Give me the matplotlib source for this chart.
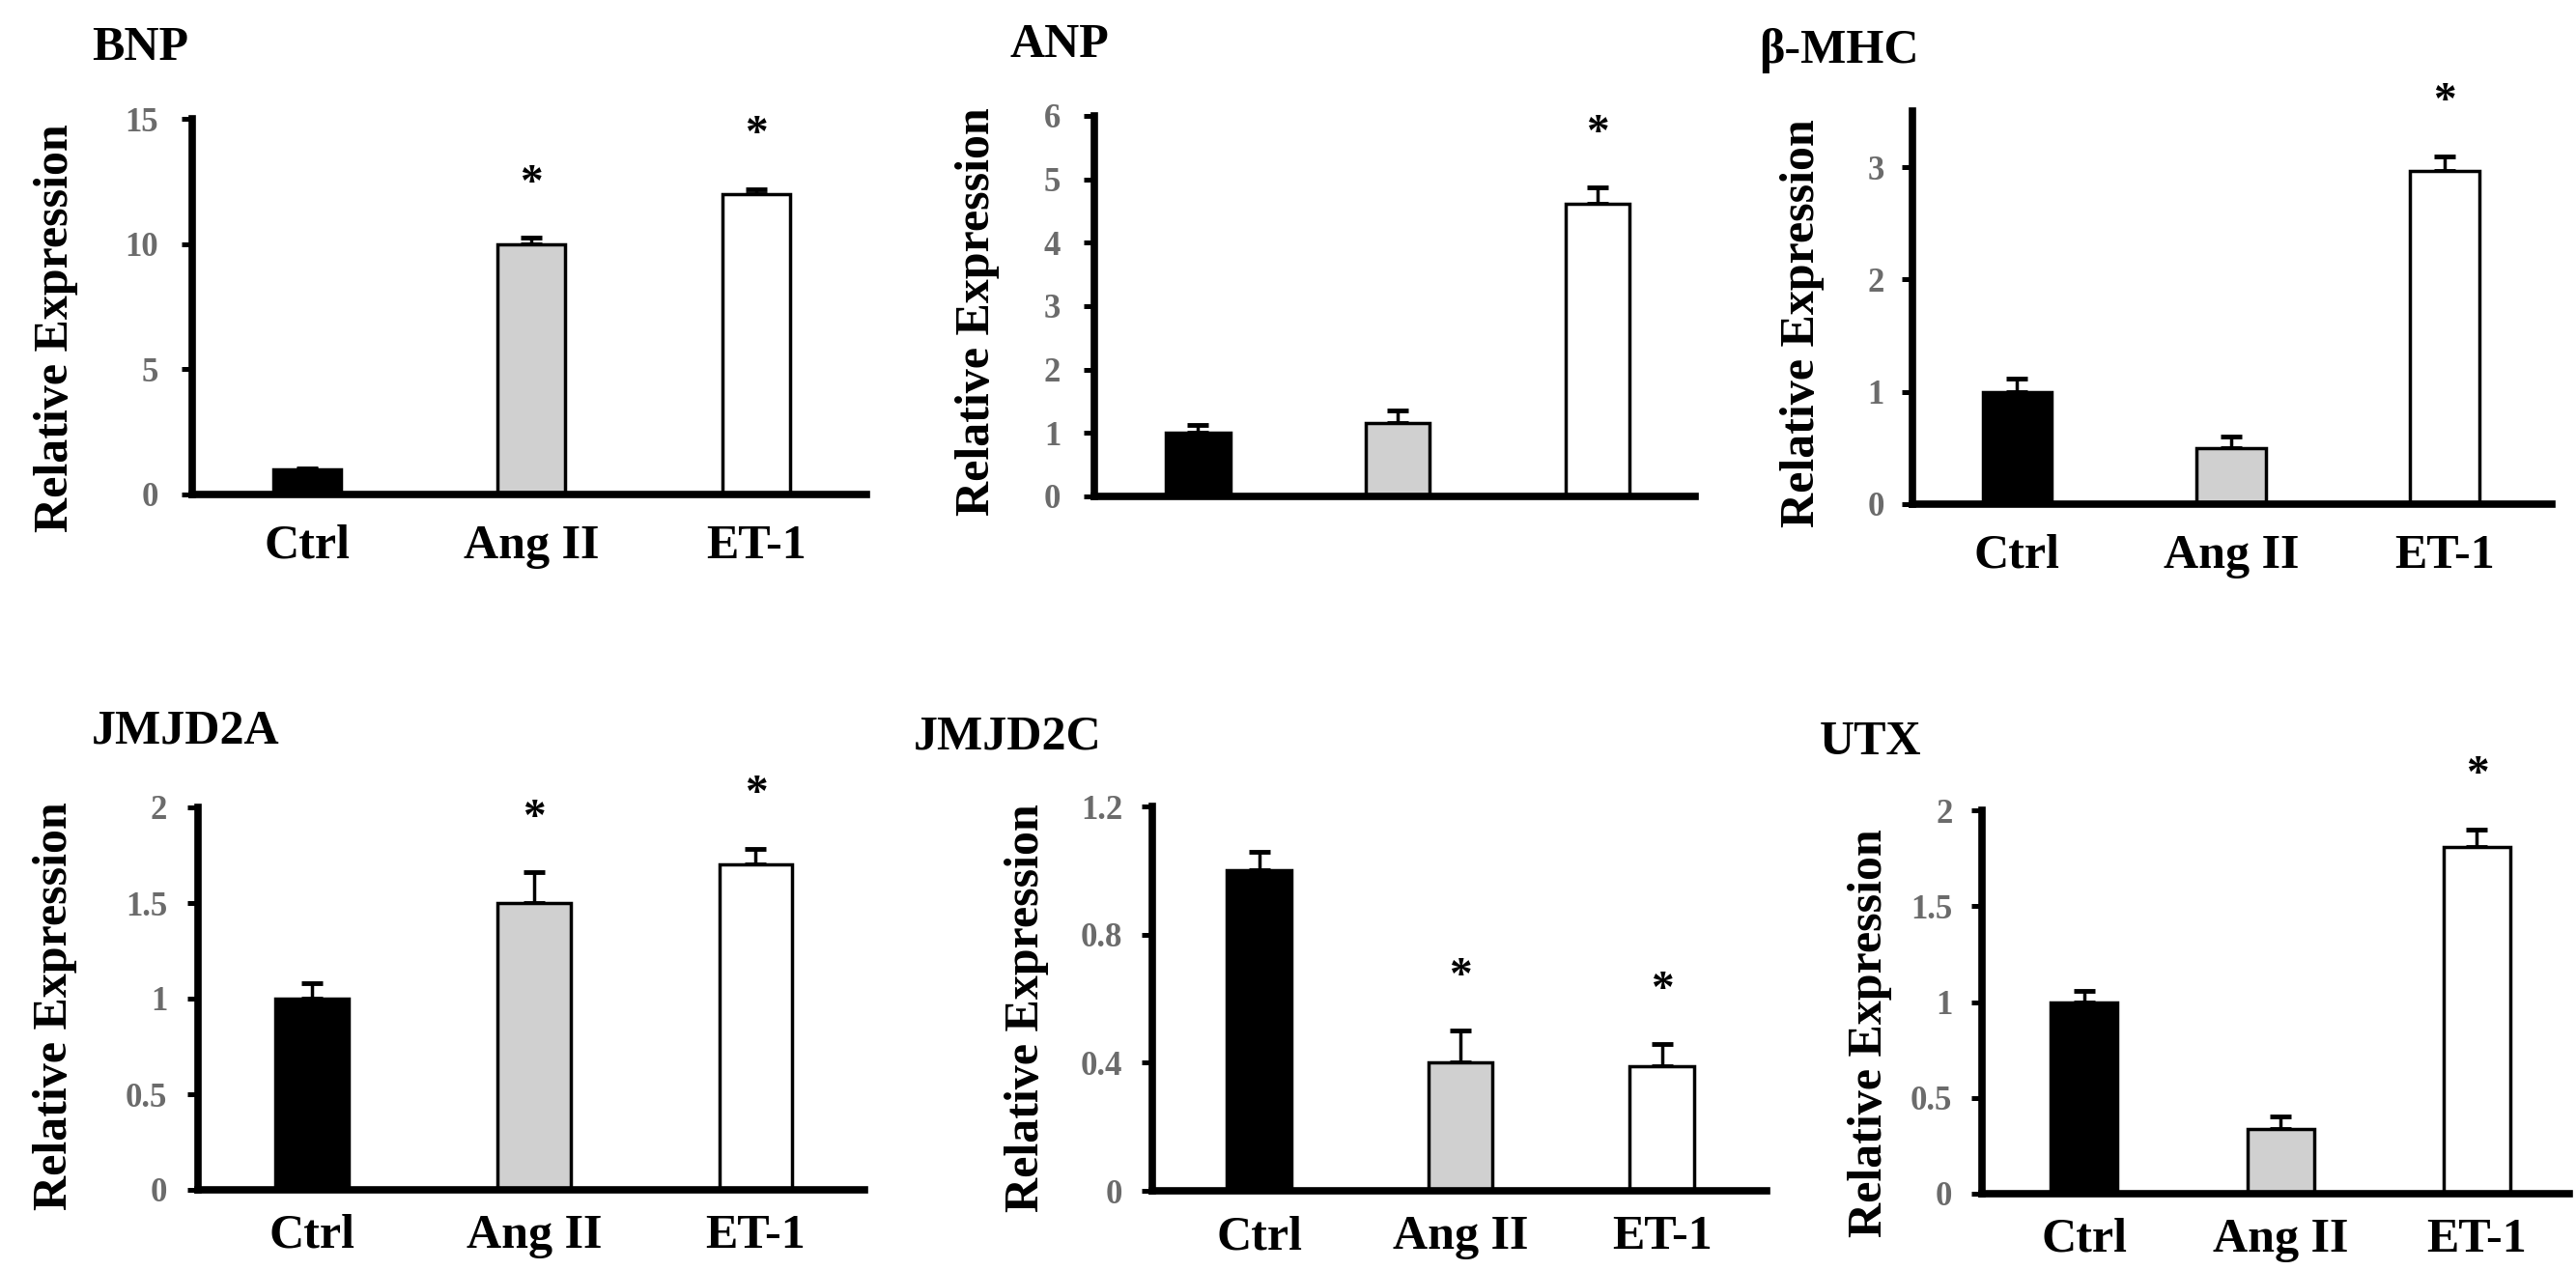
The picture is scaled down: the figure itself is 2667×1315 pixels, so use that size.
import numpy as np
import matplotlib.pyplot as plt

# groups and colours
groups = ["Ctrl", "Ang II", "ET-1"]
bar_colors = ["black", "#d0d0d0", "white"]

# values (mean, upper error, significance star)
bnp_mean = [1.0, 10.0, 12.0]
bnp_err = [0.05, 0.25, 0.2]
bnp_sig = [False, True, True]

anp_mean = [1.0, 1.15, 4.62]
anp_err = [0.13, 0.2, 0.25]
anp_sig = [False, False, True]

bmhc_mean = [1.0, 0.5, 2.97]
bmhc_err = [0.12, 0.1, 0.13]
bmhc_sig = [False, False, True]

jmjd2a_mean = [1.0, 1.5, 1.7]
jmjd2a_err = [0.08, 0.16, 0.085]
jmjd2a_sig = [False, True, True]

jmjd2c_mean = [1.0, 0.4, 0.39]
jmjd2c_err = [0.057, 0.1, 0.068]
jmjd2c_sig = [False, True, True]

utx_mean = [1.0, 0.34, 1.81]
utx_err = [0.057, 0.065, 0.09]
utx_sig = [False, False, True]

W, H = 2667, 1315
plt.rcParams['font.family'] = ['Liberation Serif', 'DejaVu Serif']
plt.rcParams['font.weight'] = 'bold'

# layout in pixels: axes box (l, t, r, b), title pos, ylabel centre
panels = [
    dict(name="BNP", mean=bnp_mean, err=bnp_err, sig=bnp_sig,
         box=(199, 123, 897, 512), xlim=(-0.51, 2.49), ylim=(0, 15),
         yticks=[0, 5, 10, 15], width=0.30, title=(95, 50), ylab=(58, 340),
         xlabels=True, ypad=17, xpad=22),
    dict(name="ANP", mean=anp_mean, err=anp_err, sig=anp_sig,
         box=(1133, 120, 1755, 514), xlim=(-0.52, 2.49), ylim=(0, 6),
         yticks=[0, 1, 2, 3, 4, 5, 6], width=0.32, title=(1046, 47), ylab=(1012, 323),
         xlabels=False, ypad=17, xpad=22),
    dict(name="β-MHC", mean=bmhc_mean, err=bmhc_err, sig=bmhc_sig,
         box=(1980, 115, 2642, 522), xlim=(-0.49, 2.5), ylim=(0, 3.5),
         yticks=[0, 1, 2, 3], width=0.325, title=(1821, 52), ylab=(1866, 335),
         xlabels=True, ypad=13, xpad=22),
    dict(name="JMJD2A", mean=jmjd2a_mean, err=jmjd2a_err, sig=jmjd2a_sig,
         box=(205, 836, 895, 1232), xlim=(-0.515, 2.49), ylim=(0, 2),
         yticks=[0, 0.5, 1, 1.5, 2], width=0.33, title=(95, 757), ylab=(57, 1042),
         xlabels=True, ypad=15, xpad=18),
    dict(name="JMJD2C", mean=jmjd2c_mean, err=jmjd2c_err, sig=jmjd2c_sig,
         box=(1193, 835, 1829, 1233), xlim=(-0.53, 2.52), ylim=(0, 1.2),
         yticks=[0, 0.4, 0.8, 1.2], width=0.32, title=(946, 764), ylab=(1063, 1044),
         xlabels=True, ypad=14, xpad=18),
    dict(name="UTX", mean=utx_mean, err=utx_err, sig=utx_sig,
         box=(2052, 839, 2660, 1236), xlim=(-0.52, 2.47), ylim=(0, 2),
         yticks=[0, 0.5, 1, 1.5, 2], width=0.34, title=(1884, 769), ylab=(1936, 1070),
         xlabels=True, ypad=14, xpad=18),
]

fig = plt.figure(figsize=(W / 100, H / 100), dpi=100)

for p in panels:
    l, t, r, b = p["box"]
    ax = fig.add_axes([l / W, 1 - b / H, (r - l) / W, (b - t) / H])
    x = np.arange(len(groups))
    mean = np.array(p["mean"])
    err = np.array(p["err"])

    ax.errorbar(x, mean, yerr=[np.zeros_like(err), err], fmt='none',
                ecolor='black', elinewidth=2.5, capsize=8, capthick=3.5, zorder=1)
    ax.bar(x, mean, p["width"], color=bar_colors, edgecolor='black',
           linewidth=2.5, zorder=2)

    for i in range(len(groups)):
        if p["sig"][i]:
            ax.annotate("*", (x[i], mean[i] + err[i]), xytext=(0, 40),
                        textcoords='offset points', ha='center', va='center',
                        fontsize=34, annotation_clip=False)

    ax.set_xlim(p["xlim"])
    ax.set_ylim(p["ylim"])
    ax.set_yticks(p["yticks"])
    ax.set_yticklabels(["%g" % v for v in p["yticks"]])
    ax.set_xticks(x)
    if p["xlabels"]:
        ax.set_xticklabels(groups)
    else:
        ax.set_xticklabels([])
    ax.tick_params(axis='x', length=0, labelsize=36, pad=p["xpad"])
    ax.tick_params(axis='y', direction='out', length=8, width=3.6,
                   labelsize=25, labelcolor='#6b6b6b', pad=p["ypad"])

    for side in ['top', 'right']:
        ax.spines[side].set_visible(False)
    for side in ['left', 'bottom']:
        ax.spines[side].set_linewidth(5.5)

    ax.set_ylabel("Relative Expression", fontsize=36, fontweight='bold', va='center')
    lx, ly = p["ylab"]
    ax.yaxis.set_label_coords((lx - l) / (r - l), (b - ly) / (b - t))

    tx, ty = p["title"]
    fig.text(tx / W, 1 - ty / H, p["name"], ha='left', va='center',
             fontsize=36, fontweight='bold')

fig.savefig("out.png", dpi=100)
